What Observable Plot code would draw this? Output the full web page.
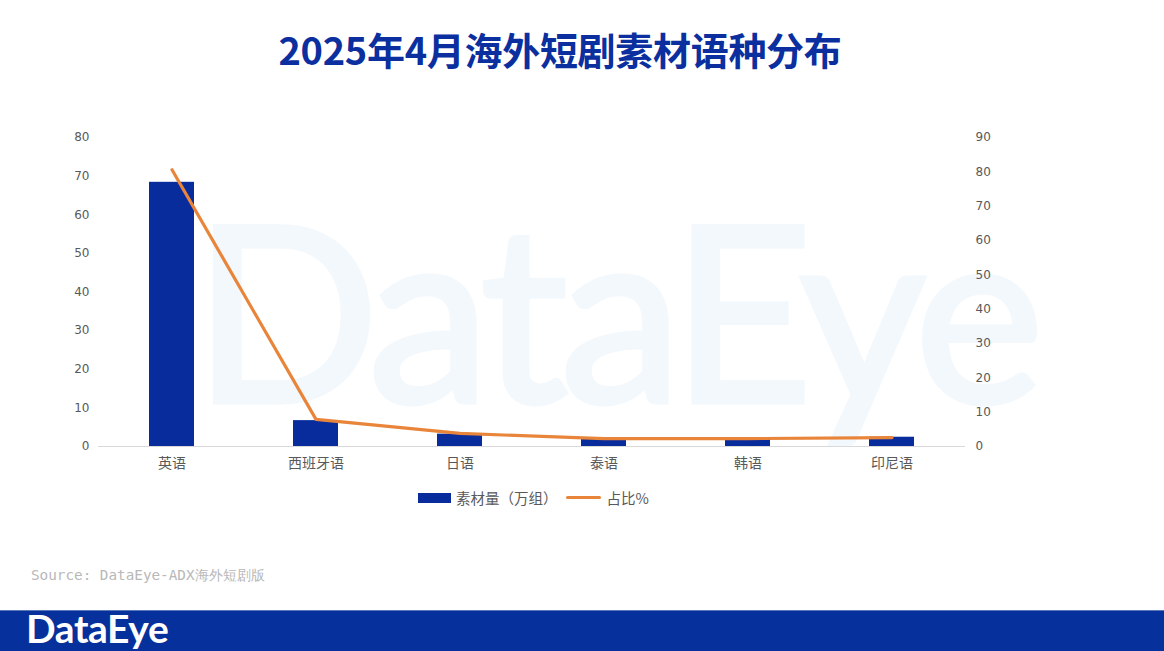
<!DOCTYPE html>
<html><head><meta charset="utf-8">
<script src="https://cdn.jsdelivr.net/npm/d3@7"></script>
<script src="https://cdn.jsdelivr.net/npm/@observablehq/plot@0.6"></script>
<style>
body{margin:0;background:#fff;width:1164px;height:651px;overflow:hidden;position:relative;font-family:"Noto Sans CJK SC","Noto Sans",sans-serif;}
#title{position:absolute;top:21px;left:0;width:1120px;text-align:center;font-size:38px;font-weight:bold;color:#0b2f9e;letter-spacing:-0.3px;}
#wm{position:absolute;left:193px;top:185px;font-family:Lato,"Noto Sans",sans-serif;font-weight:normal;font-size:245px;color:#f3f8fd;-webkit-text-stroke:5px #f3f8fd;letter-spacing:-8px;line-height:1;}
#chart{position:absolute;left:0;top:0;}
#legend{position:absolute;top:487px;left:418px;font-size:14.5px;color:#595959;display:flex;align-items:center;white-space:nowrap;}
.sw{display:inline-block;width:33px;height:10px;background:#082c9c;margin-right:5px;}
.ln{display:inline-block;width:35px;height:3px;background:#e8853a;margin:0 6px 0 8px;border-radius:2px;}
#source{position:absolute;left:31px;top:566px;font-family:"DejaVu Sans Mono","Liberation Mono",monospace;font-size:14.3px;color:#b8b8b8;}
#footer{position:absolute;left:0;top:610px;width:1164px;height:41px;background:#06309b;border-top:1px solid #5a78b8;}
#logo{position:absolute;left:26px;top:-6px;font-family:Lato,"Noto Sans",sans-serif;font-weight:bold;font-size:39px;color:#fff;letter-spacing:-0.4px;line-height:1.2;}
</style></head>
<body>
<div id="wm">DataEye</div>
<div id="title">2025年4月海外短剧素材语种分布</div>
<div id="chart"></div>
<div id="legend"><span class="sw"></span>素材量（万组）<span class="ln"></span>占比%</div>
<div id="source">Source: DataEye-ADX海外短剧版</div>
<div id="footer"><div id="logo">DataEye</div></div>
<script>
const languages = ["英语","西班牙语","日语","泰语","韩语","印尼语"];
const volume = [68.4, 6.7, 3.2, 2.0, 2.0, 2.4];   // 素材量（万组）
const share = [80.6, 7.9, 3.8, 2.3, 2.3, 2.6];    // 占比%
const leftTicks = [0,10,20,30,40,50,60,70,80];
const rightTicks = [0,10,20,30,40,50,60,70,80,90];

const leftMax = 80, rightMax = 90;
const k = leftMax / rightMax;
const rows = languages.map((l,i)=>({lang:l, vol:volume[i], share:share[i], shareScaled:share[i]*k}));

const chart = Plot.plot({
  width:1164, height:600,
  marginLeft:98, marginRight:199, marginTop:137, marginBottom:154,
  style:{fontFamily:'"DejaVu Sans","Noto Sans",sans-serif', fontSize:"12px", color:"#595959", background:"transparent"},
  x:{domain:languages, paddingInner:0.69, paddingOuter:0.345, label:null},
  y:{domain:[0,leftMax], label:null},
  marks:[
    Plot.ruleY([0],{stroke:"#d9d9d9", strokeWidth:1}),
    Plot.barY(rows,{x:"lang", y:"vol", fill:"#082c9c"}),
    Plot.line(rows,{x:"lang", y:"shareScaled", stroke:"#e8853a", strokeWidth:3.2, strokeLinejoin:"round"}),
    Plot.axisX({tickSize:0, tickPadding:12, fontSize:14, fill:"#595959", fontFamily:'"Noto Sans CJK SC",sans-serif'}),
    Plot.axisY(leftTicks,{anchor:"left", tickSize:0, tickPadding:9, fill:"#595959"}),
    Plot.axisY(rightTicks.map(v=>v*k),{anchor:"right", tickSize:0, tickPadding:10, fill:"#595959", tickFormat:v=>String(Math.round(v/k))})
  ]
});
document.getElementById("chart").appendChild(chart);
</script>
</body></html>
